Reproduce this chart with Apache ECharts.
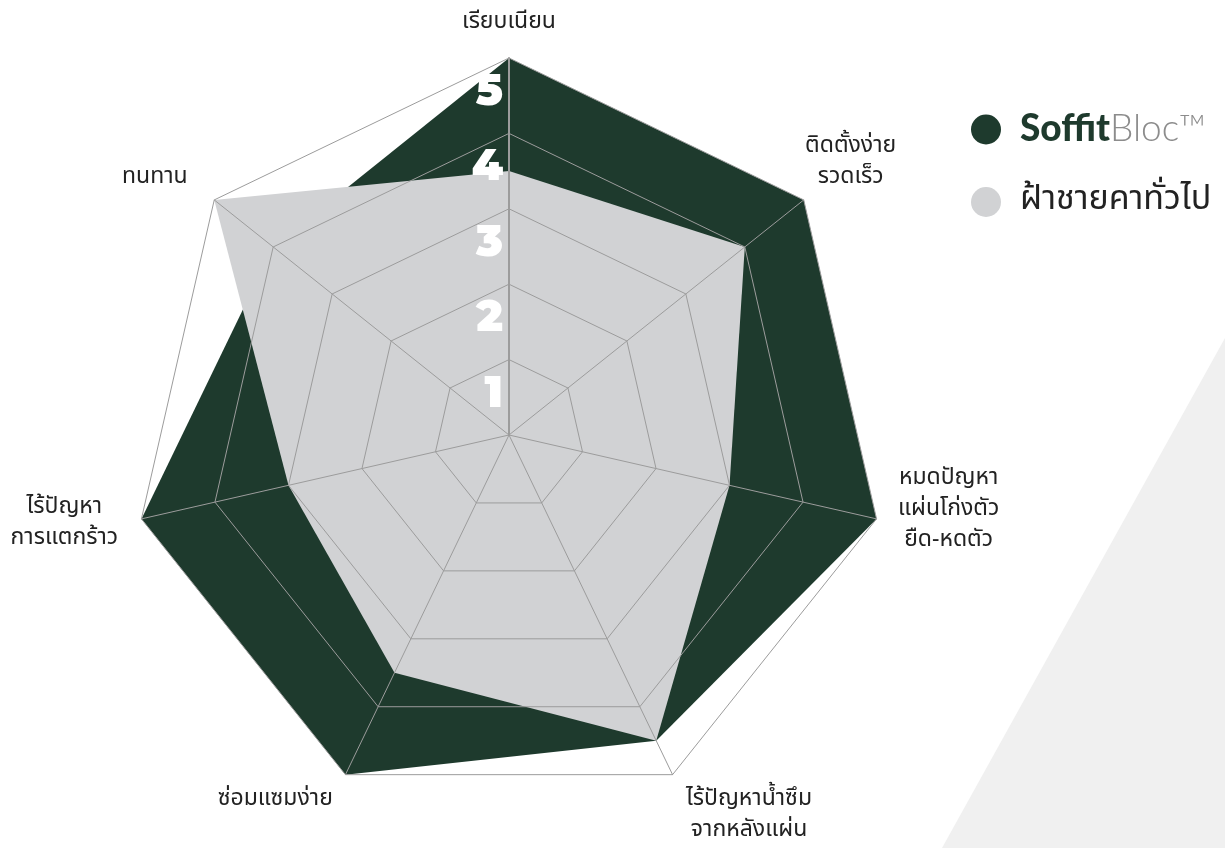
<!DOCTYPE html>
<html>
<head>
<meta charset="utf-8">
<script src="https://cdn.jsdelivr.net/npm/echarts@6/dist/echarts.min.js"></script>
<style>
  html, body { margin: 0; padding: 0; background: #fff; }
  #radarChart { width: 1225px; height: 848px; }
</style>
</head>
<body>
<div id="radarChart"></div>
<script>
// indicators, counter-clockwise from the top (echarts radar order)
const indicatorNames = [
  'เรียบเนียน',
  'ทนทาน',
  'ไร้ปัญหา\nการแตกร้าว',
  'ซ่อมแซมง่าย',
  'ไร้ปัญหาน้ำซึม\nจากหลังแผ่น',
  'หมดปัญหา\nแผ่นโก่งตัว\nยืด-หดตัว',
  'ติดตั้งง่าย\nรวดเร็ว',
];
const seriesNames = ['SoffitBloc™', 'ฝ้าชายคาทั่วไป'];
const soffitValues = [5, 4, 5, 5, 4.5, 5, 5];
const generalValues = [3.5, 5, 3, 3.5, 4.5, 3, 4];
const scoreMax = 5;
const scoreSteps = 5;

const GREEN = '#1e3a2d';
const GREY = '#d1d2d4';
const LINE = '#9c9c9c';
const THAI_FONT = "'Noto Sans Thai', 'Noto Sans Thai UI', Loma, Garuda, 'Noto Sans', sans-serif";

// where each name sits relative to its spoke
const nameLayout = [
  { gap: 19, align: 'center', verticalAlign: 'bottom' },
  { gap: 34, align: 'right', verticalAlign: 'middle' },
  { gap: 24, align: 'right', verticalAlign: 'middle' },
  { gap: 29, align: 'right', verticalAlign: 'middle' },
  { gap: 31, align: 'left', verticalAlign: 'middle', padding: [26, 0, 0, 0] },
  { gap: 22, align: 'left', verticalAlign: 'middle', padding: [0, 0, 26, 0] },
  { gap: 60, align: 'center', verticalAlign: 'middle' },
];

const myChart = echarts.init(document.getElementById('radarChart'));

const indicators = indicatorNames.map((name, i) => {
  const lay = nameLayout[i];
  const ind = {
    name: name,
    min: 0,
    max: scoreMax,
    nameGap: lay.gap,
    nameTextStyle: {
      align: lay.align,
      verticalAlign: lay.verticalAlign,
      padding: lay.padding || 0,
    },
  };
  if (i === 0) {
    // score labels only on the top spoke, sitting in the middle of each band
    ind.axisLabel = {
      show: true,
      showMinLabel: false,
      showMaxLabel: true,
      hideOverlap: false,
      color: '#fff',
      fontSize: 44,
      fontWeight: 900,
      fontFamily: 'Montserrat, Lato, Roboto, sans-serif',
      margin: 6,
      verticalAlign: 'top',
      lineHeight: 68,
    };
    ind.axisLine = { lineStyle: { color: LINE, width: 2 } };
  }
  return ind;
});

let option = {
  backgroundColor: '#fff',
  animation: false,
  color: [GREEN, GREY],
  graphic: {
    elements: [{
      type: 'polygon',
      z: -10,
      silent: true,
      shape: { points: [[1225, 338], [1225, 848], [942, 848]] },
      style: { fill: '#f0f0f0' },
    }],
  },
  legend: {
    orient: 'vertical',
    left: 966,
    top: 106,
    itemWidth: 30,
    itemHeight: 30,
    itemGap: 37,
    icon: 'circle',
    selectedMode: false,
    data: seriesNames,
    formatter: function (name) {
      if (name === seriesNames[0]) {
        return '{s|Soffit}{b|Bloc™}';
      }
      return '{t|' + name + '}';
    },
    textStyle: {
      padding: [0, 0, 0, 14],
      rich: {
        s: { fontSize: 37, fontWeight: 900, color: GREEN, fontFamily: 'Lato, Roboto, sans-serif', lineHeight: 42 },
        b: { fontSize: 37, fontWeight: 300, color: '#8c8c8c', fontFamily: 'Lato, Roboto, sans-serif', lineHeight: 42 },
        t: { fontSize: 34, color: '#222', fontFamily: THAI_FONT, lineHeight: 42 },
      },
    },
  },
  radar: {
    center: [509, 435],
    radius: 377,
    startAngle: 90,
    splitNumber: scoreSteps,
    shape: 'polygon',
    z: 5,
    indicator: indicators,
    axisName: {
      color: '#222',
      fontSize: 23,
      lineHeight: 31,
      fontFamily: THAI_FONT,
      formatter: function (name) {
        return name.split('\n').map(l => '{c|' + l + '}').join('\n');
      },
      rich: {
        c: { align: 'center', fontSize: 23, lineHeight: 31, color: '#222', fontFamily: THAI_FONT },
      },
    },
    axisLine: { lineStyle: { color: LINE, width: 1 } },
    splitLine: { lineStyle: { color: LINE, width: 1 } },
    splitArea: { show: false },
    axisTick: { show: false },
    axisLabel: { show: false },
  },
  series: [
    {
      type: 'radar',
      symbol: 'none',
      emphasis: { disabled: true },
      data: [
        {
          name: seriesNames[0],
          value: soffitValues,
          itemStyle: { color: GREEN },
          lineStyle: { width: 0 },
          areaStyle: { color: GREEN, opacity: 1 },
        },
        {
          name: seriesNames[1],
          value: generalValues,
          itemStyle: { color: GREY },
          lineStyle: { width: 0 },
          areaStyle: { color: GREY, opacity: 1 },
        },
      ],
    },
  ],
};

myChart.setOption(option);
</script>
</body>
</html>
